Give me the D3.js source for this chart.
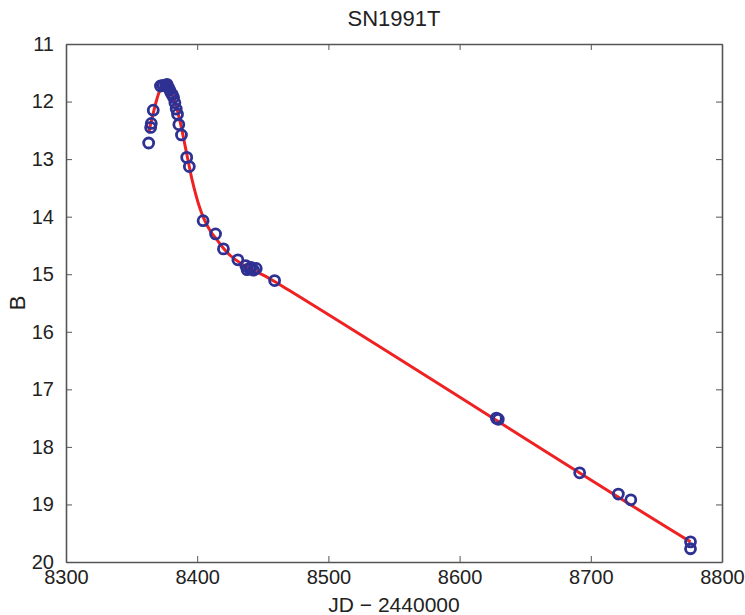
<!DOCTYPE html>
<html>
<head>
<meta charset="utf-8">
<script src="https://cdn.jsdelivr.net/npm/d3@7"></script>
<style>
  body { margin: 0; background: #fff; }
  text { font-family: "Liberation Sans", Arial, sans-serif; fill: #222; }
</style>
</head>
<body>
<div class="canvas"></div>
<script>
// observed photometry (JD - 2440000, B mag)
const obsJD = [8363, 8364.5, 8365, 8366.5, 8372, 8374, 8376, 8377, 8378, 8379, 8380, 8381, 8382, 8383, 8384, 8385, 8386, 8388, 8392, 8394,
               8404.5, 8414, 8420, 8431, 8437, 8438, 8440, 8441, 8443, 8445, 8459,
               8628, 8629.5, 8691.5, 8721, 8730.5, 8776, 8776];
const obsB  = [12.72, 12.45, 12.38, 12.15, 11.73, 11.72, 11.72, 11.70, 11.75, 11.80, 11.85, 11.88, 11.93, 12.02, 12.13, 12.22, 12.40, 12.58, 12.97, 13.13,
               14.07, 14.30, 14.56, 14.75, 14.85, 14.92, 14.90, 14.88, 14.93, 14.90, 15.11,
               17.50, 17.52, 18.45, 18.82, 18.92, 19.65, 19.77];

// fitted light curve
const fitJD = [8363, 8366, 8369, 8372, 8375, 8378, 8381, 8384, 8387, 8390, 8393, 8396, 8399, 8402, 8405, 8410, 8415, 8420, 8425, 8430, 8440, 8450, 8460, 8470, 8766, 8776];
const fitB  = [12.55, 12.25, 11.98, 11.78, 11.71, 11.75, 11.88, 12.08, 12.35, 12.68, 13.02, 13.35, 13.62, 13.85, 14.03, 14.25, 14.40, 14.55, 14.67, 14.76, 14.90, 15.01, 15.14, 15.28, 19.51, 19.65];

const xTicks = [8300, 8400, 8500, 8600, 8700, 8800];
const yTicks = [11, 12, 13, 14, 15, 16, 17, 18, 19, 20];

const width = 745, height = 615;
const margin = {top: 44, right: 23, bottom: 53, left: 66};
const w = width - margin.left - margin.right;
const h = height - margin.top - margin.bottom;

const svg = d3.select('.canvas').append('svg')
    .attr('width', width)
    .attr('height', height);

const graph = svg.append('g')
    .attr('transform', `translate(${margin.left}, ${margin.top})`);

const x = d3.scaleLinear().domain([8300, 8800]).range([0, w]);
const y = d3.scaleLinear().domain([11, 20]).range([0, h]);

// axes (ticks pointing inward, matlab style)
const axisColor = '#555';
const fmt = d3.format('d');
const xAxis = graph.append('g').attr('transform', `translate(0, ${h})`)
    .call(d3.axisBottom(x).tickValues(xTicks).tickFormat(fmt).tickSizeInner(-6).tickSizeOuter(0).tickPadding(8));
const xTop = graph.append('g')
    .call(d3.axisTop(x).tickValues(xTicks).tickSizeInner(-6).tickSizeOuter(0).tickFormat(''));
const yAxis = graph.append('g')
    .call(d3.axisLeft(y).tickValues(yTicks).tickFormat(fmt).tickSizeInner(-6).tickSizeOuter(0).tickPadding(12));
const yRight = graph.append('g').attr('transform', `translate(${w}, 0)`)
    .call(d3.axisRight(y).tickValues(yTicks).tickSizeInner(-6).tickSizeOuter(0).tickFormat(''));

[xAxis, xTop, yAxis, yRight].forEach(g => {
    g.select('.domain').attr('stroke', axisColor).attr('stroke-width', 1.6);
    g.selectAll('.tick line').attr('stroke', axisColor).attr('stroke-width', 1);
    g.selectAll('.tick text').attr('font-size', 20).attr('fill', '#222')
        .attr('font-family', '"Liberation Sans", Arial, sans-serif');
});

// fitted curve
const fit = fitJD.map((d, i) => ({jd: d, b: fitB[i]}));
const line = d3.line()
    .x(d => x(d.jd))
    .y(d => y(d.b))
    .curve(d3.curveMonotoneX);

graph.append('path')
    .datum(fit)
    .attr('fill', 'none')
    .attr('stroke', '#ee2222')
    .attr('stroke-width', 3)
    .attr('d', line);

// observations
const obs = obsJD.map((d, i) => ({jd: d, b: obsB[i]}));
graph.selectAll('circle').data(obs).enter().append('circle')
    .attr('cx', d => x(d.jd))
    .attr('cy', d => y(d.b))
    .attr('r', 5)
    .attr('fill', 'none')
    .attr('stroke', '#2e3192')
    .attr('stroke-width', 2.8);

// title and labels
svg.append('text')
    .attr('x', margin.left + w / 2)
    .attr('y', 26)
    .attr('text-anchor', 'middle')
    .attr('font-size', 22)
    .text('SN1991T');

svg.append('text')
    .attr('x', margin.left + w / 2)
    .attr('y', 612)
    .attr('text-anchor', 'middle')
    .attr('font-size', 21)
    .text('JD \u2212 2440000');

svg.append('text')
    .attr('transform', `translate(25, ${margin.top + h / 2}) rotate(-90)`)
    .attr('text-anchor', 'middle')
    .attr('font-size', 22)
    .text('B');
</script>
</body>
</html>
